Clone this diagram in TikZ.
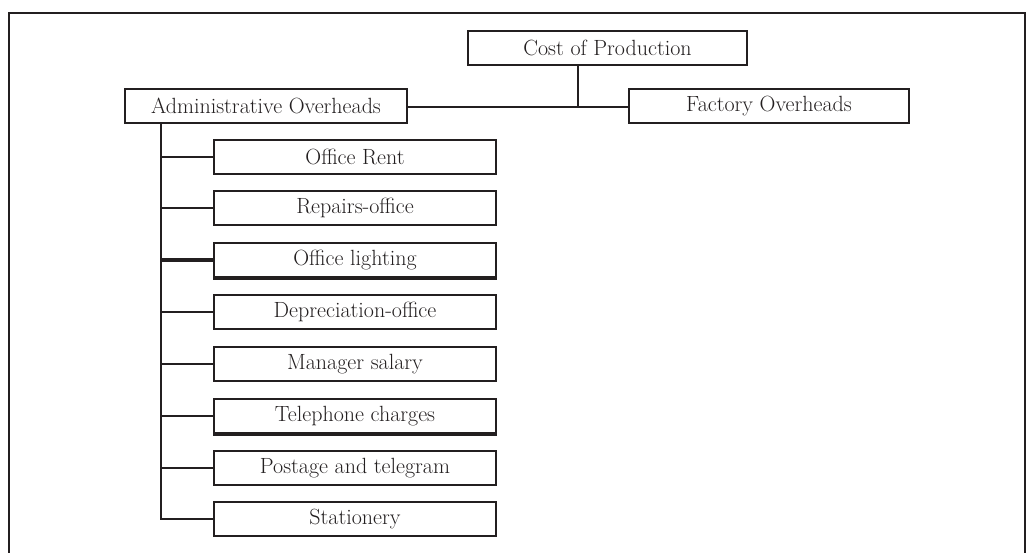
\documentclass[tikz,border=0pt]{standalone}
\usepackage{tikz}
\definecolor{ink}{HTML}{231F20}
\tikzset{
  box/.style={draw=ink, line width=1.9pt, rectangle, minimum height=34pt,
    inner sep=0pt, text=ink, font=\fontsize{22}{24}\selectfont},
  head/.style={box, minimum width=280pt},
  item/.style={box, minimum width=282pt},
  link/.style={draw=ink, line width=2.8pt},
  trunk/.style={draw=ink, line width=1.9pt},
  frame/.style={draw=ink, line width=2.5pt},
  heavybase/.style={draw=ink, line width=3.4pt}
}
\begin{document}
\begin{tikzpicture}[x=1pt, y=1pt]
  \useasboundingbox (0,0) rectangle (1028,-552);
  \fill[white] (0,0) rectangle (1028,-552);
  % page frame, open at the bottom
  \draw[frame] (9,-556) -- (9,-13) -- (1025,-13) -- (1025,-556);

  % top level
  \node[head, minimum width=279pt] (cost) at (607.5,-48) {Cost of Production};
  \node[head, minimum width=282pt] (admin) at (266,-106) {Administrative Overheads};
  \node[head] (factory) at (769,-106) {Factory Overheads};

  \coordinate (jn) at (578,-107);
  \draw[link] (admin.east |- jn) -- (factory.west |- jn);
  \draw[link] (cost.south -| jn) -- (jn);

  % administrative overhead items
  \node[item] (rent)   at (355,-157) {Office Rent};
  \node[item] (repair) at (355,-208) {Repairs-office};
  \node[item] (light)  at (355,-260) {Office lighting};
  \node[item] (depr)   at (355,-312) {Depreciation-office};
  \node[item] (mgr)    at (355,-364) {Manager salary};
  \node[item] (phone)  at (355,-416) {Telephone charges};
  \node[item] (post)   at (355,-468) {Postage and telegram};
  \node[item] (stat)   at (355,-519) {Stationery};

  % heavier lower edges on two boxes
  \draw[heavybase] (light.south west) -- (light.south east);
  \draw[heavybase] (phone.south west) -- (phone.south east);

  % trunk and branches
  \coordinate (tr) at (161,0);
  \draw[trunk] (admin.south -| tr) -- (stat.west -| tr) -- (stat.west);
  \foreach \n in {rent,repair,depr,mgr,phone,post}
    \draw[link] (\n.west -| tr) -- (\n.west);
  \draw[link, line width=3.6pt] (light.west -| tr) -- (light.west);
\end{tikzpicture}
\end{document}
